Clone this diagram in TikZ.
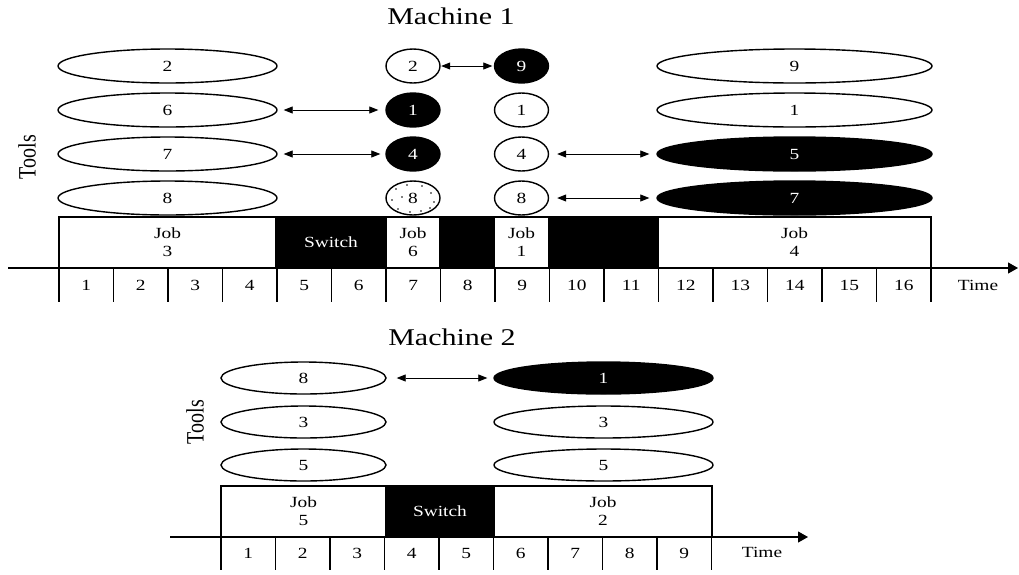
\documentclass[tikz,border=0pt]{standalone}
\usepackage{fontspec}
\setmainfont{Liberation Serif}
\usetikzlibrary{shapes.geometric,arrows.meta}
\newcommand{\hs}[1]{\scalebox{1.25}[1]{#1}}
\newcommand{\fnum}{\fontsize{15.5}{17}\selectfont}
\tikzset{
  tool/.style={ellipse, draw, line width=1.4pt, inner sep=0pt, minimum height=34pt, font=\fnum},
  toolw/.style={tool, fill=white},
  toolb/.style={tool, fill=black, text=white},
  wideA/.style={minimum width=219pt},
  wideB/.style={minimum width=275pt},
  wideC/.style={minimum width=165pt},
  narrow/.style={minimum width=54pt},
  jobbox/.style={draw, line width=1.3pt, minimum height=51pt, inner sep=0pt, align=center, font=\fnum},
  blackbox/.style={jobbox, fill=black, text=white},
  cellnum/.style={font=\fnum, inner sep=0pt},
  tickline/.style={line width=1.8pt},
  axisline/.style={line width=1.1pt, -{Triangle[length=10pt,width=11pt]}},
  dbl/.style={line width=0.8pt, {Triangle[length=9pt,width=7pt]}-{Triangle[length=9pt,width=7pt]}},
  title/.style={font=\fontsize{24}{28}\selectfont, inner sep=0pt},
  toolslab/.style={font=\fontsize{20}{24}\selectfont, rotate=90, inner sep=0pt},
}
\begin{document}
\begin{tikzpicture}[x=1pt,y=-1pt]
\useasboundingbox (0,0) rectangle (1019,574);
% ================= Machine 1 =================
\node[title] (t1) at (451,16) {\hs{Machine 1}};
\node[toolslab] (tools1) at (27,157) {\scalebox{1}[1.25]{Tools}};
% left column
\node[toolw,wideA] (a2) at (167.5,66) {\hs{2}};
\node[toolw,wideA] (a6) at (167.5,110) {\hs{6}};
\node[toolw,wideA] (a7) at (167.5,154) {\hs{7}};
\node[toolw,wideA] (a8) at (167.5,198) {\hs{8}};
% column 7
\node[toolw,narrow] (b2) at (413,66) {\hs{2}};
\node[toolb,narrow] (b1) at (413,110) {\hs{1}};
\node[toolb,narrow] (b4) at (413,154) {\hs{4}};
\node[toolw,narrow] (b8) at (413,198) {};
\foreach \dx/\dy in {-17/-9,-6/-13,9/-12,18/-5,-21/2,21/4,-15/11,-3/14,8/13,17/10,-11/-1}
  \fill (413+\dx,198+\dy) circle (0.8pt);
\node[font=\fnum, inner sep=0pt] (b8t) at (413,198) {\hs{8}};
% column 9
\node[toolb,narrow] (c9) at (521.5,66) {\hs{9}};
\node[toolw,narrow] (c1) at (521.5,110) {\hs{1}};
\node[toolw,narrow] (c4) at (521.5,154) {\hs{4}};
\node[toolw,narrow] (c8) at (521.5,198) {\hs{8}};
% right column
\node[toolw,wideB] (d9) at (794.5,66) {\hs{9}};
\node[toolw,wideB] (d1) at (794.5,110) {\hs{1}};
\node[toolb,wideB] (d5) at (794.5,154) {\hs{5}};
\node[toolb,wideB] (d7) at (794.5,198) {\hs{7}};
% swap arrows
\draw[dbl, shorten <=6pt, shorten >=7pt] (a6) -- (b1);
\draw[dbl, shorten <=6pt, shorten >=5pt] (a7) -- (b4);
\draw[dbl, shorten <=0.5pt, shorten >=1.5pt] (b2) -- (c9);
\draw[dbl, shorten <=8pt, shorten >=7pt] (c4) -- (d5);
\draw[dbl, shorten <=8pt, shorten >=7pt] (c8) -- (d7);
% job bar
\node[jobbox, minimum width=217pt] (j3) at (167.5,242.5) {\hs{Job}\\[1pt]\hs{3}};
\node[blackbox, minimum width=110pt] (s1) at (331,242.5) {\hs{Switch}};
\node[jobbox, minimum width=54pt] (j6) at (413,242.5) {\hs{Job}\\[1pt]\hs{6}};
\node[blackbox, minimum width=54pt] (k1) at (467.25,242.5) {};
\node[jobbox, minimum width=54.5pt] (j1) at (521.5,242.5) {\hs{Job}\\[1pt]\hs{1}};
\node[blackbox, minimum width=109pt] (k2) at (603.5,242.5) {};
\node[jobbox, minimum width=273pt] (j4) at (794.5,242.5) {\hs{Job}\\[1pt]\hs{4}};
% axis
\coordinate (ax1s) at (8,268);
\coordinate (ax1e) at (1018,268);
\draw[axisline] (ax1s) -- (ax1e);
\foreach \k in {0,...,16} \draw[tickline] (59+54.5*\k,268) -- (59+54.5*\k,302);
\foreach \i in {1,...,16} \node[cellnum] (m1n\i) at (59+54.5*\i-27.25,285) {\hs{\i}};
\node[cellnum] (time1) at (978,285) {\hs{Time}};
% ================= Machine 2 =================
\node[title] (t2) at (452,337) {\hs{Machine 2}};
\node[toolslab] (tools2) at (195,422) {\scalebox{1}[1.25]{Tools}};
\node[toolw,wideC,minimum height=32pt] (p8) at (303.5,378) {\hs{8}};
\node[toolw,wideC,minimum height=32pt] (p3) at (303.5,422) {\hs{3}};
\node[toolw,wideC,minimum height=32pt] (p5) at (303.5,465) {\hs{5}};
\node[toolb,wideA,minimum height=32pt] (q1) at (603.5,378) {\hs{1}};
\node[toolw,wideA,minimum height=32pt] (q3) at (603.5,422) {\hs{3}};
\node[toolw,wideA,minimum height=32pt] (q5) at (603.5,465) {\hs{5}};
\draw[dbl, shorten <=10pt, shorten >=6pt] (p8) -- (q1);
\node[jobbox, minimum width=165pt] (j5) at (303.5,511.5) {\hs{Job}\\[1pt]\hs{5}};
\node[blackbox, minimum width=108pt] (s2) at (440,511.5) {\hs{Switch}};
\node[jobbox, minimum width=218pt] (j2) at (603,511.5) {\hs{Job}\\[1pt]\hs{2}};
\coordinate (ax2s) at (170,537);
\coordinate (ax2e) at (808,537);
\draw[axisline] (ax2s) -- (ax2e);
\foreach \k in {0,...,9} \draw[tickline] (221+54.5*\k,537) -- (221+54.5*\k,570);
\foreach \i in {1,...,9} \node[cellnum] (m2n\i) at (221+54.5*\i-27.25,553) {\hs{\i}};
\node[cellnum] (time2) at (762,552) {\hs{Time}};
\end{tikzpicture}
\end{document}
